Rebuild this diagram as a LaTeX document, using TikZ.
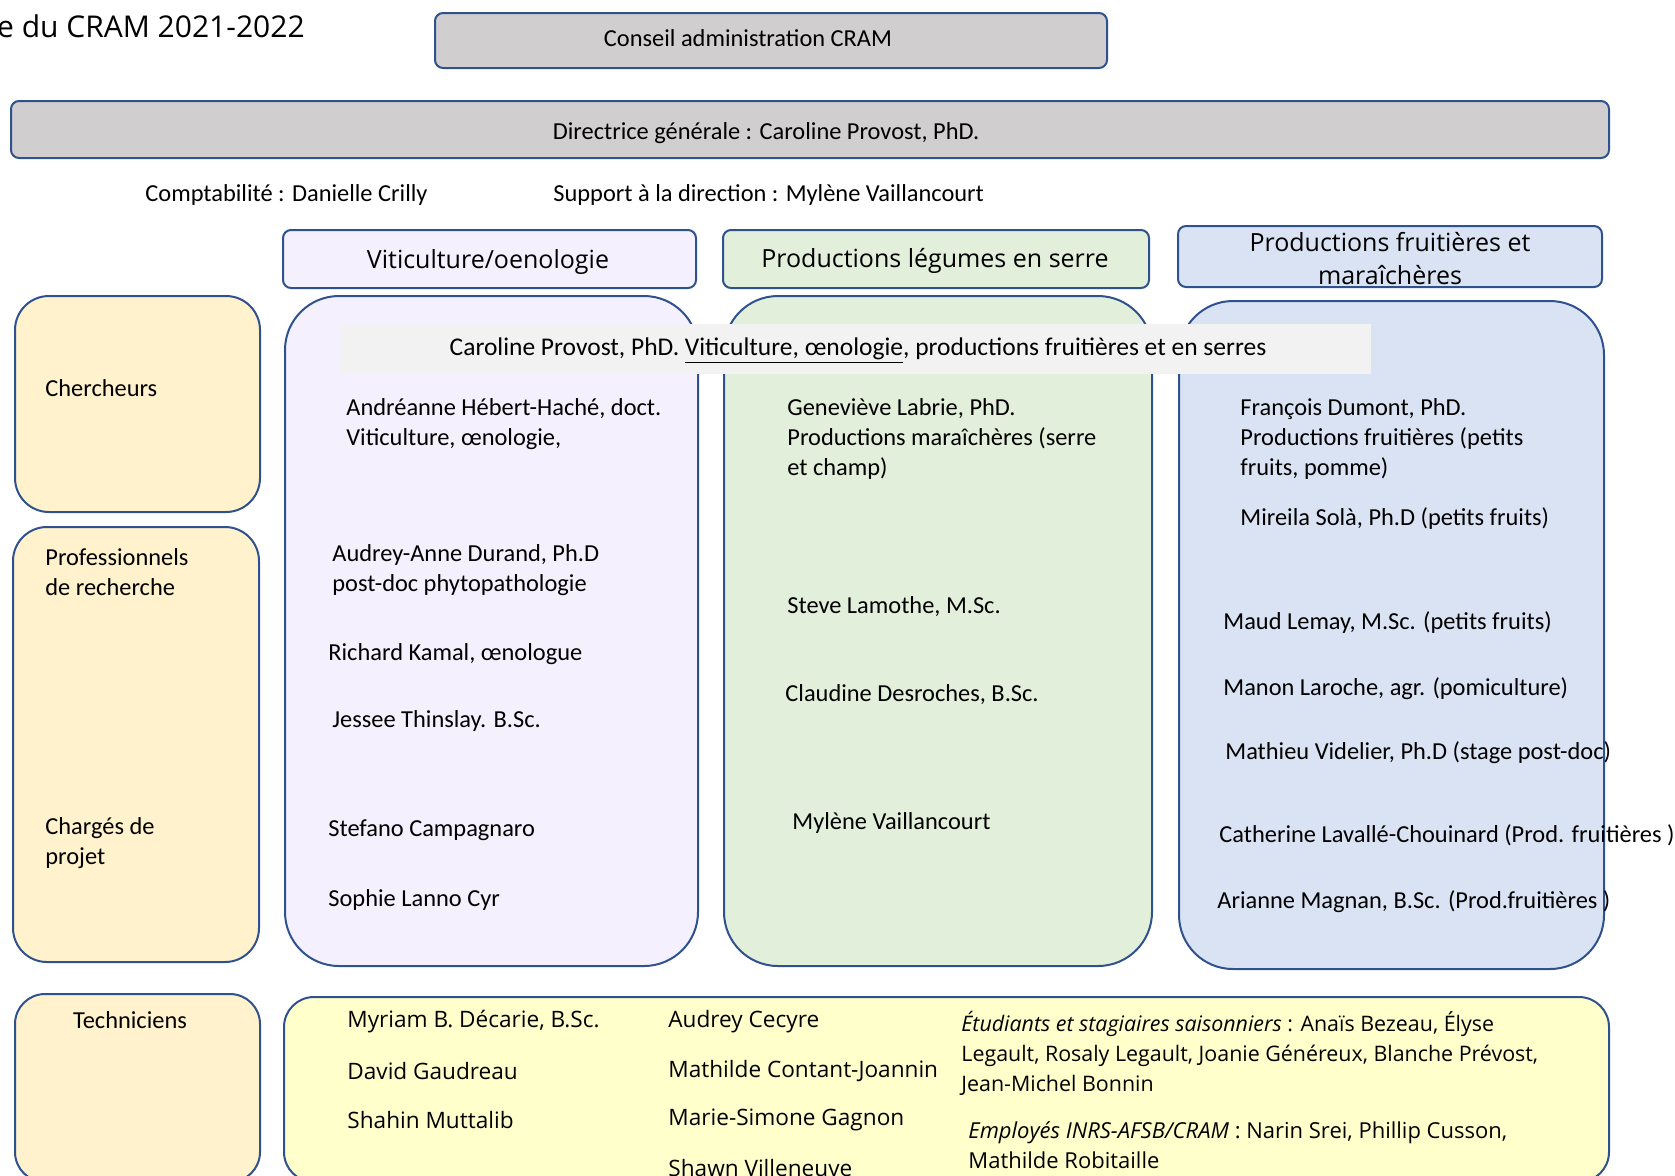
\documentclass[tikz,border=0pt]{standalone}
\usepackage{fontspec}
\setmainfont{Carlito}
\newfontfamily\segoe{Open Sans}
\definecolor{bordure}{RGB}{47,82,143}
\definecolor{gris}{RGB}{208,206,206}
\definecolor{lavande}{RGB}{244,240,253}
\definecolor{vert}{RGB}{226,239,218}
\definecolor{bleu}{RGB}{218,227,243}
\definecolor{beige}{RGB}{255,242,204}
\definecolor{jaune}{RGB}{255,255,204}
\definecolor{bandeau}{RGB}{242,242,242}
\tikzset{
  cadre/.style={draw=bordure, line width=1pt},
  petitcadre/.style={cadre, rounded corners=4pt},
  colonne/.style={cadre, rounded corners=27pt},
  categorie/.style={cadre, fill=beige, rounded corners=17pt},
  texte/.style={inner sep=0pt, align=center, font=\fontsize{12.2}{15}\selectfont},
  nom/.style={anchor=west, inner sep=0pt, align=left, font=\fontsize{12.2}{15}\selectfont},
  entete/.style={inner sep=0pt, align=center, font=\segoe\fontsize{12.5}{16.5}\selectfont},
  tech/.style={anchor=west, inner sep=0pt, align=left, font=\segoe\fontsize{11.3}{15}\selectfont},
}

\begin{document}
\begin{tikzpicture}[x=0.5pt, y=-0.5pt]
    \useasboundingbox (0,0) rectangle (1675,1175);

    \node[anchor=east, inner sep=0pt, font=\segoe\fontsize{15}{18}\selectfont] (titre) at (305,26) {ne du CRAM 2021-2022};

    \draw[petitcadre, fill=gris] (435,13) rectangle (1107,68);
    \node[texte] (conseil) at (748,38) {Conseil administration CRAM};
    \draw[petitcadre, fill=gris] (11,101) rectangle (1609,158);
    \node[texte] (directrice) at (766,133) {Directrice générale : Caroline Provost, PhD.};
    \node[nom] (compta) at (145,195) {Comptabilité : Danielle Crilly};
    \node[nom] (support) at (553,195) {Support à la direction : Mylène Vaillancourt};

    \draw[petitcadre, fill=lavande] (283,230) rectangle (696,288);
    \node[entete] (viti) at (488,262) {Viticulture/oenologie};
    \draw[petitcadre, fill=vert] (723,230) rectangle (1149,288);
    \node[entete] (legumes) at (935,261) {Productions légumes en serre};
    \draw[petitcadre, fill=bleu] (1178,226) rectangle (1602,287);
    \node[entete] (fruits) at (1390,259) {Productions fruitières et\\maraîchères};

    \draw[categorie] (15,296) rectangle (260,512);
    \node[nom] (chercheurs) at (45,388) {Chercheurs};
    \draw[categorie] (13,527) rectangle (259,962);
    \node[nom] (pros) at (45,572) {Professionnels\\de recherche};
    \node[nom] (charges) at (45,843) {Chargés de\\projet};
    \draw[categorie, rounded corners=15pt] (15,994) rectangle (260,1182);
    \node[texte] (techniciens) at (130,1020) {Techniciens};

    \draw[colonne, fill=lavande] (285,296) rectangle (698,966);
    \draw[colonne, fill=vert] (724,296) rectangle (1152,966);
    \draw[colonne, fill=bleu] (1179,301) rectangle (1604,969);

    \fill[bandeau] (340,324) rectangle (1371,374);
    \node[texte, font=\fontsize{12.75}{15}\selectfont] (provost) at (858,351) {Caroline Provost, PhD. \underline{Viticulture, œnologie}, productions fruitières et en serres};

    \node[nom] (hebert) at (346,424) {Andréanne Hébert-Haché, doct.\\Viticulture, œnologie,};
    \node[nom] (durand) at (332,570) {Audrey-Anne Durand, Ph.D\\post-doc phytopathologie};
    \node[nom] (kamal) at (328,654) {Richard Kamal, œnologue};
    \node[nom] (thinslay) at (332,721) {Jessee Thinslay. B.Sc.};
    \node[nom] (campagnaro) at (328,830) {Stefano Campagnaro};
    \node[nom] (lanno) at (328,900) {Sophie Lanno Cyr};

    \node[nom] (labrie) at (787,439) {Geneviève Labrie, PhD.\\Productions maraîchères (serre\\et champ)};
    \node[nom] (lamothe) at (787,607) {Steve Lamothe, M.Sc.};
    \node[nom] (desroches) at (785,695) {Claudine Desroches, B.Sc.};
    \node[nom] (vaillancourt) at (792,823) {Mylène Vaillancourt};

    \node[nom] (dumont) at (1240,439) {François Dumont, PhD.\\Productions fruitières (petits\\fruits, pomme)};
    \node[nom] (sola) at (1240,519) {Mireila Solà, Ph.D (petits fruits)};
    \node[nom] (lemay) at (1223,623) {Maud Lemay, M.Sc. (petits fruits)};
    \node[nom] (laroche) at (1223,689) {Manon Laroche, agr. (pomiculture)};
    \node[nom] (videlier) at (1225,753) {Mathieu Videlier, Ph.D (stage post-doc)};
    \node[nom] (lavalle) at (1219,835) {Catherine Lavallé-Chouinard (Prod. fruitières )};
    \node[nom] (magnan) at (1217,902) {Arianne Magnan, B.Sc. (Prod.fruitières )};

    \draw[cadre, fill=jaune, rounded corners=15pt] (284,997) rectangle (1609,1182);
    \node[tech] (decarie) at (347,1022) {Myriam B. Décarie, B.Sc.};
    \node[tech] (gaudreau) at (347,1071) {David Gaudreau};
    \node[tech] (muttalib) at (347,1120) {Shahin Muttalib};
    \node[tech] (cecyre) at (668,1022) {Audrey Cecyre};
    \node[tech] (contant) at (668,1071) {Mathilde Contant-Joannin};
    \node[tech] (gagnon) at (668,1120) {Marie-Simone Gagnon};
    \node[tech] (villeneuve) at (668,1168) {Shawn Villeneuve};
    \node[tech, font=\segoe\fontsize{10.7}{15}\selectfont] (etudiants) at (961,1053) {\textit{Étudiants et stagiaires saisonniers} : Anaïs Bezeau, Élyse\\Legault, Rosaly Legault, Joanie Généreux, Blanche Prévost,\\Jean-Michel Bonnin};
    \node[tech, font=\segoe\fontsize{11}{15}\selectfont] (employes) at (968,1145) {\textit{Employés INRS-AFSB/CRAM} : Narin Srei, Phillip Cusson,\\Mathilde Robitaille};
\end{tikzpicture}
\end{document}
